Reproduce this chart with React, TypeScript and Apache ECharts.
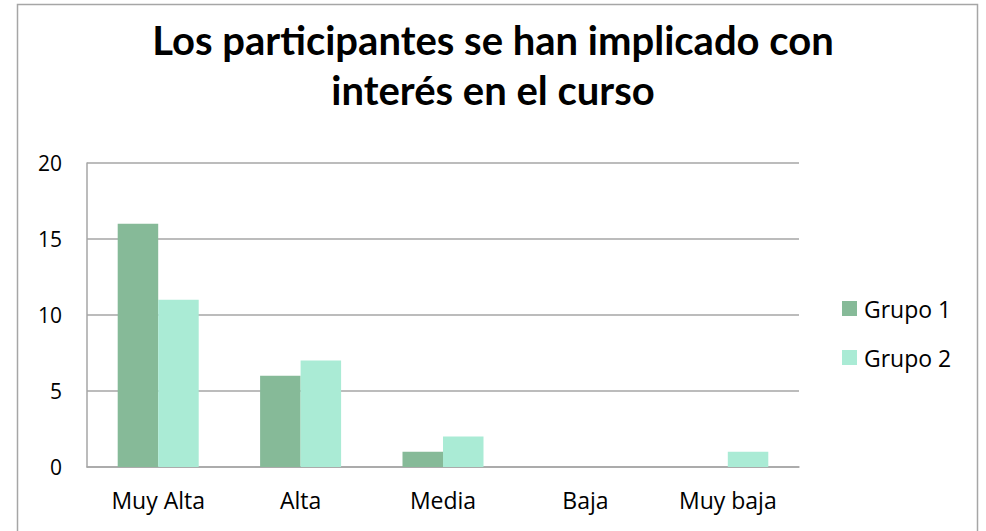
import React, { useEffect, useRef } from "react";
import * as echarts from "echarts";

const categories = ["Muy Alta", "Alta", "Media", "Baja", "Muy baja"];
const grupo1 = [16, 6, 1, 0, 0];
const grupo2 = [11, 7, 2, 0, 1];
const seriesNames = ["Grupo 1", "Grupo 2"];
const titleText = "Los participantes se han implicado con\ninterés en el curso";

export default function App() {
  const ref = useRef<HTMLDivElement>(null);
  useEffect(() => {
    document.body.style.margin = "0";
    const chart = echarts.init(ref.current!, null, { renderer: "svg" });
    const font = "'Open Sans', sans-serif";
    const titleFont = "Lato, sans-serif";
    chart.setOption({
      animation: false,
      backgroundColor: "#ffffff",
      textStyle: { fontFamily: font },
      title: {
        text: titleText,
        left: "center",
        top: 10,
        textStyle: { fontSize: 40, fontWeight: "bold", color: "#000", lineHeight: 50, fontFamily: titleFont },
      },
      graphic: [
        {
          type: "rect",
          shape: { x: 17.5, y: 4.5, width: 960, height: 560 },
          style: { fill: "none", stroke: "#A6A6A6", lineWidth: 1.5 },
          silent: true,
        },
      ],
      legend: {
        orient: "vertical",
        left: 837,
        top: 292,
        itemWidth: 15,
        itemHeight: 15,
        itemGap: 26,
        icon: "rect",
        textStyle: { fontSize: 23, color: "#000", fontFamily: font, padding: [0, 0, 0, 2] },
        data: seriesNames,
      },
      grid: { left: 87, right: 187, top: 163, bottom: 64 },
      xAxis: {
        type: "category",
        data: categories,
        axisLine: { show: true, lineStyle: { color: "#A6A6A6", width: 1.5 } },
        axisTick: { show: false },
        axisLabel: { fontSize: 23, color: "#000", margin: 21, fontFamily: font },
      },
      yAxis: {
        type: "value",
        min: 0,
        max: 20,
        interval: 5,
        axisLine: { show: true, lineStyle: { color: "#A6A6A6", width: 1.5 } },
        axisTick: { show: false },
        splitLine: { show: true, lineStyle: { color: "#A6A6A6", width: 1.5 } },
        axisLabel: { fontSize: 21, color: "#000", margin: 25, fontFamily: font },
      },
      series: [
        {
          name: seriesNames[0],
          type: "bar",
          data: grupo1,
          barWidth: 40.5,
          barGap: "0%",
          itemStyle: { color: "#86BA98" },
        },
        {
          name: seriesNames[1],
          type: "bar",
          data: grupo2,
          barWidth: 40.5,
          barGap: "0%",
          itemStyle: { color: "#AAEBD5" },
        },
      ],
    });
    return () => chart.dispose();
  }, []);
  return <div ref={ref} style={{ width: 986, height: 531 }} />;
}
